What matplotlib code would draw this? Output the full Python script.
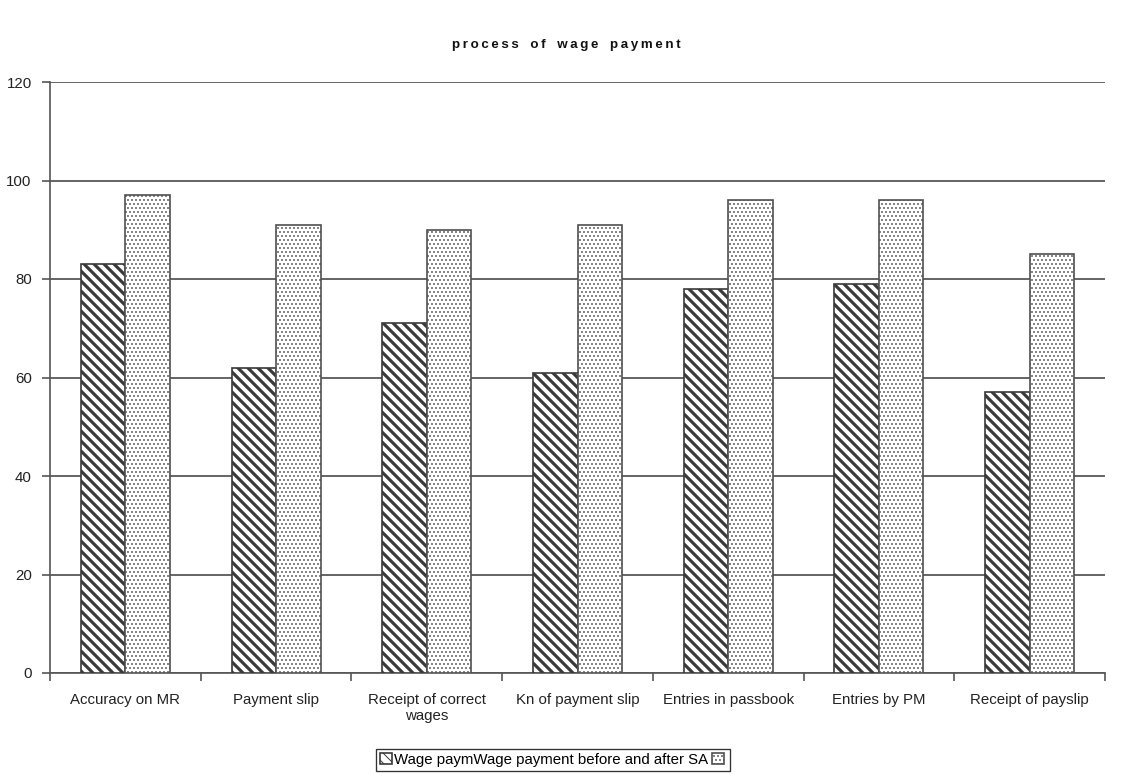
import numpy as np
import matplotlib.pyplot as plt

plt.rcParams['font.family'] = ['Liberation Sans', 'DejaVu Sans']

# survey results (%) per item of wage payment
categories = ['Accuracy on MR', 'Payment slip', 'Receipt of correct\nwages',
              'Kn of payment slip', 'Entries in passbook', 'Entries by PM',
              'Receipt of payslip']
before = [83, 62, 71, 61, 78, 79, 57]
after = [97, 91, 90, 91, 96, 96, 85]
series_labels = ['Wage paymWage payment before and after SA', '']

yticks = [0, 20, 40, 60, 80, 100, 120]

fig = plt.figure(figsize=(1132/120, 774/120), dpi=120)
ax = fig.add_axes([50/1132, 1-673/774, (1105-50)/1132, (673-82)/774])

x = np.arange(len(categories))
w = 0.295
edge = '#3a3a3a'

plt.rcParams['hatch.linewidth'] = 1.9
b1 = ax.bar(x - w/2, before, w, facecolor='white', edgecolor='black',
            hatch='\\\\\\\\', linewidth=1.0, zorder=3)
for p in b1:
    p.set_edgecolor(edge)
plt.rcParams['hatch.linewidth'] = 0.6
b2 = ax.bar(x + w/2, after, w, facecolor='white', edgecolor='#505050',
            hatch='.....', linewidth=1.0, zorder=3)

ax.set_xlim(-0.5, len(categories) - 0.5)
ax.set_ylim(0, 120)
ax.set_yticks(yticks)
ax.yaxis.grid(True, color='#4a4a4a', linewidth=1.0, zorder=0)
ax.set_axisbelow(True)

# category labels centred, tick marks on the boundaries
ax.set_xticks(x)
ax.set_xticklabels(categories, fontsize=9, color='#222222', linespacing=1.15)
ax.tick_params(axis='x', which='major', length=0, pad=12)
ax.set_xticks(np.arange(len(categories) + 1) - 0.5, minor=True)
ax.tick_params(axis='x', which='minor', length=5, width=1, color='#555555',
               direction='out')
ax.tick_params(axis='y', length=5, width=1, color='#555555', direction='out',
               labelsize=9, labelcolor='#222222', pad=6)

for s in ['top', 'right']:
    ax.spines[s].set_visible(False)
for s in ['left', 'bottom']:
    ax.spines[s].set_color('#555555')
    ax.spines[s].set_linewidth(1.0)

title = 'process of wage payment'
spaced = '\u2009'.join(title).replace('\u2009 \u2009', '\u2009\u2009 \u2009')
fig.text(0.5, 1-45/774, spaced, ha='center', va='center', fontsize=8,
         fontweight='bold', color='#111111')

leg = fig.legend([b1[0], b2[0]], series_labels, ncol=2, loc='upper center',
                 bbox_to_anchor=(553/1132, 1-749/774), fontsize=9,
                 frameon=True, fancybox=False, edgecolor='black',
                 handlelength=0.8, handleheight=0.8, handletextpad=0.1,
                 columnspacing=0.3, borderpad=0.25, borderaxespad=0)
leg.get_frame().set_linewidth(0.8)

fig.savefig('out.png', dpi=120)
